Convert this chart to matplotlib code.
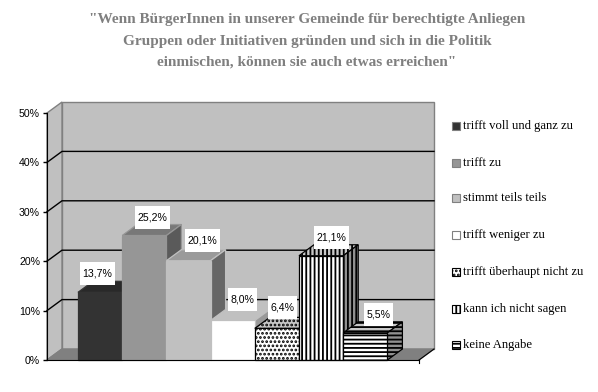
import matplotlib
matplotlib.use("Agg")
import matplotlib.pyplot as plt
from matplotlib.patches import Polygon, Rectangle

title_lines = ['"Wenn BürgerInnen in unserer Gemeinde für berechtigte Anliegen',
               'Gruppen oder Initiativen gründen und sich in die Politik',
               'einmischen, können sie auch etwas erreichen"']
categories = ["trifft voll und ganz zu", "trifft zu", "stimmt teils teils", "trifft weniger zu",
              "trifft überhaupt nicht zu", "kann ich nicht sagen", "keine Angabe"]
values = [13.7, 25.2, 20.1, 8.0, 6.4, 21.1, 5.5]
labels = ["13,7%", "25,2%", "20,1%", "8,0%", "6,4%", "21,1%", "5,5%"]
yticks = [0, 10, 20, 30, 40, 50]
yticklabels = ["0%", "10%", "20%", "30%", "40%", "50%"]

fronts = ["#333333", "#969696", "#c0c0c0", "#ffffff", "#ffffff", "#ffffff", "#ffffff"]
tops = ["#292929", "#787878", "#9a9a9a", "#c0c0c0", "#c8c8c8", "#c8c8c8", "#c8c8c8"]
sides = ["#1f1f1f", "#5a5a5a", "#666666", "#999999", "#909090", "#909090", "#909090"]
hatches = [None, None, None, None, "....", "||||", "----"]
edges = ["#333333", "#969696", "#c0c0c0", "#c0c0c0", "black", "black", "black"]
label_off_x = [-2.5, 8.5, 14, 10, 6, 10, 13]
label_off_y = [18.5, 18, 20, 20.5, 21, 18, 18]
label_w = [35, 35, 35, 29, 29, 35, 29]

W, H = 598, 392
plt.rcParams["hatch.linewidth"] = 1.3
plt.rcParams["font.family"] = "Liberation Sans"
fig = plt.figure(figsize=(W / 100, H / 100), dpi=100, facecolor="white")
L, R, B, T = 47, 419, 360, 113
ax = fig.add_axes([L / W, 1 - B / H, (R - L) / W, (B - T) / H])
bar_w_px = 44.2
px_y = 50 / (B - T)
xmin = -0.5 - (78 - L) / bar_w_px
ax.set_xlim(xmin, xmin + (R - L) / bar_w_px)
ax.set_ylim(0, 50)
dx = 15 / bar_w_px
dy = 11 * px_y
x0, x1 = ax.get_xlim()
grey = "#c0c0c0"; line = "#808080"

ax.add_patch(Polygon([(x0 + dx, dy), (x1 + dx, dy), (x1 + dx, 50 + dy), (x0 + dx, 50 + dy)], fc=grey, ec=line, lw=1, clip_on=False, zorder=1))
ax.add_patch(Polygon([(x0, 0), (x0 + dx, dy), (x0 + dx, 50 + dy), (x0, 50)], fc=grey, ec=line, lw=1, clip_on=False, zorder=1))
ax.add_patch(Polygon([(x0, 0), (x1, 0), (x1 + dx, dy), (x0 + dx, dy)], fc="#808080", ec=line, lw=1, clip_on=False, zorder=1))
ax.plot([x1, x1 + dx], [0, dy], color="black", lw=0.8, clip_on=False, zorder=2)
ax.plot([x1, x1], [0, -3 * px_y], color="black", lw=0.8, clip_on=False, zorder=2)
for t in yticks[1:-1]:
    ax.plot([x0, x0 + dx, x1 + dx], [t, t + dy, t + dy], color="black", lw=1, clip_on=False, zorder=2)

for i, v in enumerate(values):
    a, b = i - 0.5, i + 0.5
    kw = dict(clip_on=False, zorder=3 + i, lw=0.9, ec=edges[i], hatch=hatches[i])
    ax.add_patch(Polygon([(a, v), (b, v), (b + dx, v + dy), (a + dx, v + dy)], fc=tops[i], **kw))
    ax.add_patch(Polygon([(b, 0), (b + dx, dy), (b + dx, v + dy), (b, v)], fc=sides[i], **kw))
    ax.add_patch(Rectangle((a, 0), 1, v, fc=fronts[i], **kw))

for i, (v, s) in enumerate(zip(values, labels)):
    cx = i + label_off_x[i] / bar_w_px
    cy = v + label_off_y[i] * px_y
    w, h = label_w[i] / bar_w_px, 23 * px_y
    ax.add_patch(Rectangle((cx - w / 2, cy - h / 2), w, h, fc="white", ec="none", clip_on=False, zorder=20))
    ax.text(cx, cy, s, ha="center", va="center", fontsize=7.6, color="black", zorder=21, clip_on=False)

for s in ["top", "right"]:
    ax.spines[s].set_visible(False)
ax.patch.set_visible(False)
ax.spines["left"].set_zorder(15); ax.spines["bottom"].set_zorder(15)
ax.set_xticks([])
ax.set_yticks(yticks, yticklabels, fontsize=7.6)
ax.tick_params(axis="y", length=3, width=1, pad=2, direction="out")

ty = [20, 42, 62]
for s, y in zip(title_lines, ty):
    fig.text(307 / W, 1 - y / H, s, ha="center", va="center", family="Liberation Serif", fontsize=10.97,
             weight="bold", color="#7f7f7f")

leg_y = [126, 163, 198, 235, 272, 309, 345]
for i, (c, y) in enumerate(zip(categories, leg_y)):
    fig.add_artist(Rectangle((452 / W, 1 - (y + 4) / H), 8 / W, 8 / H, transform=fig.transFigure,
                             fc=fronts[i], ec="#808080" if i < 4 else "black", lw=0.8, hatch=hatches[i]))
    fig.text(463 / W, 1 - y / H, c, ha="left", va="center", family="Liberation Serif", fontsize=9.1, color="black")

fig.savefig("out.png", dpi=100, facecolor="white")
